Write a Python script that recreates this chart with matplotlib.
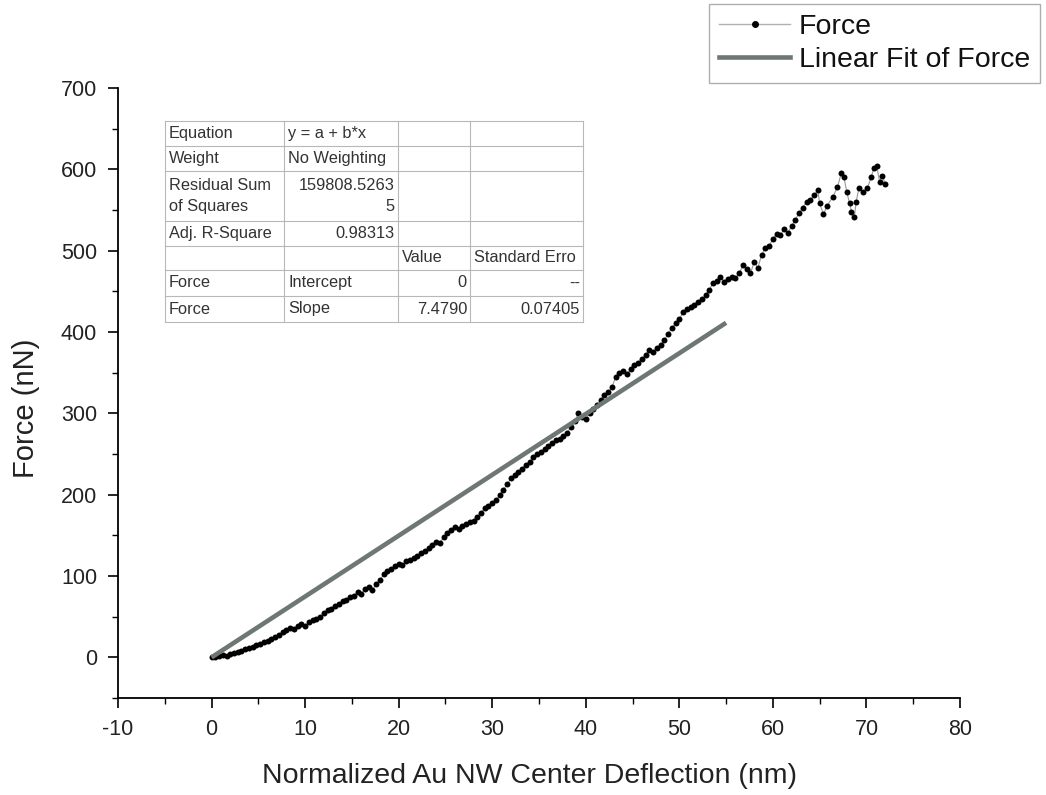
import matplotlib
matplotlib.use("Agg")
import matplotlib.pyplot as plt
from matplotlib.lines import Line2D
from matplotlib.ticker import MultipleLocator

plt.rcParams['font.family'] = ['Liberation Sans', 'DejaVu Sans']
plt.rcParams['axes.unicode_minus'] = False

# Measured force vs. normalized centre deflection
deflection_nm = [
    0.0, 0.4, 0.8, 1.2, 1.6, 2.0, 2.4, 2.8, 3.2, 3.6, 4.0, 4.4, 4.8, 5.2, 5.6,
    6.0, 6.4, 6.8, 7.2, 7.6, 8.0, 8.4, 8.8, 9.2, 9.6, 10.0, 10.4, 10.8, 11.2,
    11.6, 12.0, 12.4, 12.8, 13.2, 13.6, 14.0, 14.4, 14.8, 15.2, 15.6, 16.0,
    16.4, 16.8, 17.2, 17.6, 18.0, 18.4, 18.8, 19.2, 19.6, 20.0, 20.4, 20.8,
    21.2, 21.6, 22.0, 22.4, 22.8, 23.2, 23.6, 24.0, 24.4, 24.8, 25.2, 25.6,
    26.0, 26.4, 26.8, 27.2, 27.6, 28.0, 28.4, 28.8, 29.2, 29.6, 30.0, 30.4,
    30.8, 31.2, 31.6, 32.0, 32.4, 32.8, 33.2, 33.6, 34.0, 34.4, 34.8, 35.2,
    35.6, 36.0, 36.4, 36.8, 37.2, 37.6, 38.0, 38.4, 38.8, 39.2, 39.6, 40.0,
    40.4, 40.8, 41.2, 41.6, 42.0, 42.4, 42.8, 43.2, 43.6, 44.0, 44.4, 44.8,
    45.2, 45.6, 46.0, 46.4, 46.8, 47.2, 47.6, 48.0, 48.4, 48.8, 49.2, 49.6,
    50.0, 50.4, 50.8, 51.2, 51.6, 52.0, 52.4, 52.8, 53.2, 53.6, 54.0, 54.4,
    54.8, 55.2, 55.6, 56.0, 56.4, 56.8, 57.2, 57.6, 58.0, 58.4, 58.8, 59.2,
    59.6, 60.0, 60.4, 60.8, 61.2, 61.6, 62.0, 62.4, 62.8, 63.2, 63.6, 64.0,
    64.4, 64.8, 65.0, 65.4, 65.8, 66.4, 66.9, 67.3, 67.6, 67.9, 68.2, 68.4,
    68.7, 68.9, 69.2, 69.6, 70.1, 70.5, 70.8, 71.1, 71.4, 71.7, 72.0,
]
force_nN = [
    0, 1, 2, 3, 2, 4, 5, 7, 8, 10, 11, 13, 15, 17, 19,
    20, 23, 25, 27, 31, 33, 36, 35, 39, 41, 38, 43, 46, 47,
    50, 54, 58, 60, 63, 66, 69, 71, 74, 76, 80, 78,
    84, 86, 83, 90, 95, 102, 106, 108, 112, 115, 113, 118,
    120, 122, 125, 128, 131, 134, 138, 142, 140, 148, 153, 157,
    160, 158, 162, 164, 166, 168, 173, 178, 183, 186, 190, 194,
    199, 206, 213, 220, 224, 228, 232, 237, 240, 246, 250, 253,
    256, 260, 263, 267, 269, 272, 276, 283, 290, 300, 296, 293,
    300, 305, 310, 316, 322, 326, 332, 345, 350, 352, 348, 355,
    360, 362, 367, 372, 378, 376, 380, 384, 390, 398, 405, 411,
    416, 424, 428, 431, 433, 437, 440, 445, 452, 460, 463, 468,
    462, 465, 468, 466, 472, 482, 478, 472, 486, 479, 495, 503,
    506, 514, 521, 519, 527, 522, 530, 538, 546, 553, 560, 562,
    568, 574, 558, 545, 555, 566, 578, 595, 590, 572, 558, 548,
    541, 560, 577, 572, 577, 590, 602, 604, 585, 592, 582,
]

# Linear fit through the origin: y = a + b*x with a = 0
fit_intercept = 0.0
fit_slope = 7.4790
fit_x = [0.0, 55.0]
fit_y = [fit_intercept + fit_slope * v for v in fit_x]

x_ticks = [-10, 0, 10, 20, 30, 40, 50, 60, 70, 80]
y_ticks = [0, 100, 200, 300, 400, 500, 600, 700]

W, H = 1046, 795
fig = plt.figure(figsize=(W / 100, H / 100), dpi=100)
ax_l, ax_r, ax_t, ax_b = 118, 960, 88, 698
ax = fig.add_axes([ax_l / W, 1 - ax_b / H, (ax_r - ax_l) / W, (ax_b - ax_t) / H])

fit_color = '#6f7775'
ax.plot(deflection_nm, force_nN, color='#9a9a9a', lw=0.8, zorder=2)
ax.plot(deflection_nm, force_nN, 'o', color='black', ms=4.3, mew=0, zorder=3)
ax.plot(fit_x, fit_y, color=fit_color, lw=3.3, solid_capstyle='butt', zorder=4)

ax.set_xlim(-10, 80)
ax.set_ylim(-50, 700)
ax.set_xticks(x_ticks)
ax.set_yticks(y_ticks)
ax.xaxis.set_minor_locator(MultipleLocator(5))
ax.yaxis.set_minor_locator(MultipleLocator(50))
for s in ('top', 'right'):
    ax.spines[s].set_visible(False)
for s in ('left', 'bottom'):
    ax.spines[s].set_linewidth(1.3)
ax.tick_params(which='major', direction='out', length=7, width=1.2,
               labelsize=15.5, pad=8, labelcolor='#222222')
ax.tick_params(which='minor', direction='out', length=4, width=1.0)
ax.set_xlabel('Normalized Au NW Center Deflection (nm)', fontsize=20.5,
              color='#222222', va='center')
ax.set_ylabel('Force (nN)', fontsize=21, color='#222222', va='center')
ax.xaxis.set_label_coords((529 - ax_l) / (ax_r - ax_l), (ax_b - 776) / (ax_b - ax_t))
ax.yaxis.set_label_coords((26 - ax_l) / (ax_r - ax_l), (ax_b - 408) / (ax_b - ax_t))

# Fit summary table
def px(x, y):
    return x / W, 1 - y / H

col_edges = [165, 284, 398, 470, 583]
row_edges = [121, 146, 171, 221, 246, 270, 296, 322]
grid_color = '#b8b8b8'
for xe in col_edges:
    fig.add_artist(Line2D([xe / W, xe / W], [1 - 121 / H, 1 - 322 / H],
                          color=grid_color, lw=0.8))
for ye in row_edges:
    fig.add_artist(Line2D([165 / W, 583 / W], [1 - ye / H, 1 - ye / H],
                          color=grid_color, lw=0.8))

cells = [
    (0, 0, 'Equation', 'l'), (0, 1, 'y = a + b*x', 'l'),
    (1, 0, 'Weight', 'l'), (1, 1, 'No Weighting', 'l'),
    (2, 0, 'Residual Sum\nof Squares', 'l'), (2, 1, '159808.5263\n5', 'r'),
    (3, 0, 'Adj. R-Square', 'l'), (3, 1, '0.98313', 'r'),
    (4, 2, 'Value', 'l'), (4, 3, 'Standard Erro', 'l'),
    (5, 0, 'Force', 'l'), (5, 1, 'Intercept', 'l'), (5, 2, '0', 'r'), (5, 3, '--', 'r'),
    (6, 0, 'Force', 'l'), (6, 1, 'Slope', 'l'), (6, 2, '7.4790', 'r'), (6, 3, '0.07405', 'r'),
]
for r, c, txt, al in cells:
    yc = (row_edges[r] + row_edges[r + 1]) / 2
    if al == 'l':
        xx = col_edges[c] + 4
        ha = 'left'
    else:
        xx = col_edges[c + 1] - 3
        ha = 'right'
    fig.text(*px(xx, yc), txt, ha=ha, va='center', fontsize=11.8,
             color='#333333', linespacing=1.45, multialignment=ha)

# Legend outside the axes, top right
handles = [
    Line2D([], [], color='#b0b0b0', lw=1.0, marker='o', ms=4.0,
           mfc='black', mec='black'),
    Line2D([], [], color=fit_color, lw=3.3),
]
leg = fig.legend(handles, ['Force', 'Linear Fit of Force'], loc='upper right',
                 bbox_to_anchor=(1040 / W, 1 - 4 / H), fontsize=20.5,
                 frameon=True, fancybox=False, handlelength=2.5,
                 handletextpad=0.3, borderpad=0.35, labelspacing=0.25,
                 numpoints=1, borderaxespad=0)
leg.get_frame().set_edgecolor('#9a9a9a')
leg.get_frame().set_linewidth(1.0)
for t in leg.get_texts():
    t.set_color('#111111')

fig.savefig('out.png', dpi=100)
